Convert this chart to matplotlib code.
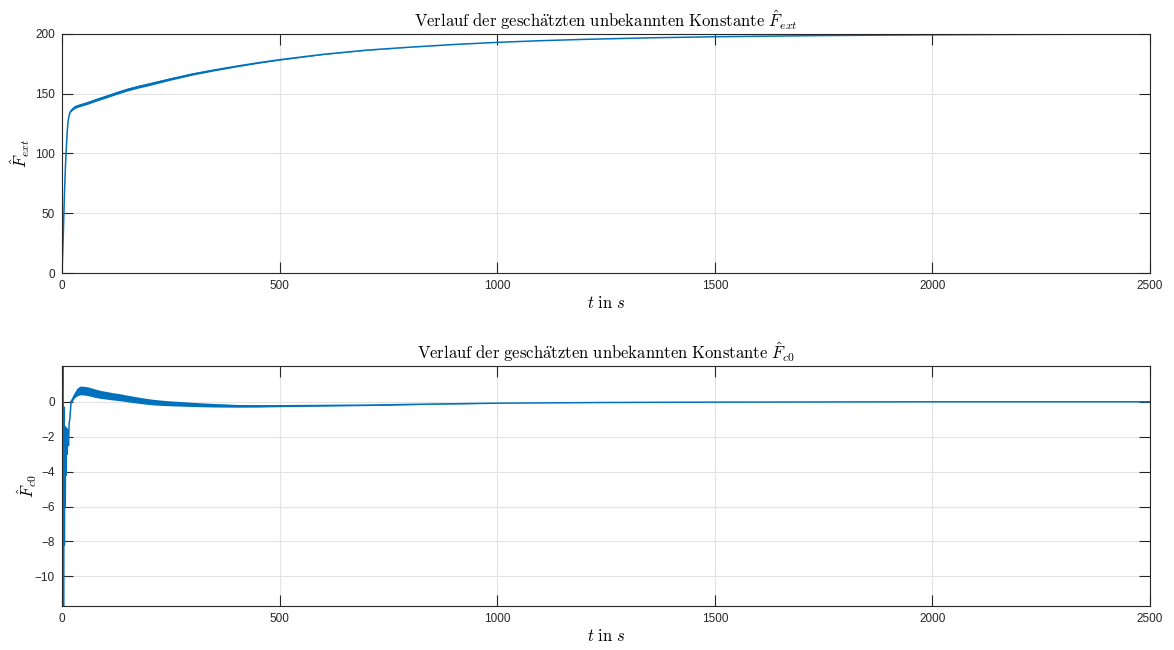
import matplotlib.pyplot as plt
import numpy as np

plt.rcParams['mathtext.fontset'] = 'cm'
plt.rcParams['font.family'] = ['Liberation Sans', 'DejaVu Sans']

# F_ext estimate (top), centre line and band half-width of the fast oscillation
t_ext = [0, 2, 4, 6, 8, 10, 12, 14, 17, 20, 25, 30, 40, 50, 60, 75, 100, 125, 150, 175,
         200, 250, 300, 350, 400, 450, 500, 600, 700, 800, 900, 1000, 1100, 1200, 1350,
         1500, 1750, 2000, 2250, 2500]
f_ext = [0, 20, 45, 70, 90, 105, 118, 127, 133, 135.5, 137.5, 139, 140.3, 141.4, 142.5,
         144.5, 147.5, 150.6, 153.5, 155.9, 158, 162.4, 166.5, 169.9, 173, 175.9, 178.5,
         183, 186.5, 189, 191.2, 193, 194.4, 195.5, 196.8, 197.7, 198.7, 199.3, 199.7, 199.9]
hw_ext = [0, 0, 0, 0, 0, 0, 0, 0, 0.3, 0.7, 1.0, 1.2, 1.2, 1.2, 1.2, 1.2, 1.2, 1.2, 1.2,
          1.2, 1.2, 1.0, 0.9, 0.75, 0.6, 0.5, 0.4, 0.25, 0.15, 0.08, 0.03, 0, 0, 0, 0,
          0, 0, 0, 0, 0]

# F_c0 estimate (bottom): start transient, then banded slow part
t_c0_start = [0, 2.5, 3.5, 4.5, 5.5, 6.5, 7.5, 8.5, 9.5, 10.5, 12, 13.5, 15, 16.5, 18, 21]
f_c0_start = [0, 3, -12.5, -0.3, -8.2, -1.4, -6, -1.6, -4.2, -1.5, -3.0, -1.6, -2.5, -1.2,
              -1.0, 0.0]
t_c0 = [21, 28, 34, 41, 50, 60, 75, 87, 100, 115, 133, 150, 168, 190, 210, 230, 250, 275,
        300, 350, 400, 450, 500, 600, 700, 850, 1000, 1250, 1500, 1750, 2000, 2500]
f_c0 = [0.0, 0.35, 0.55, 0.65, 0.64, 0.6, 0.5, 0.43, 0.38, 0.32, 0.26, 0.19, 0.12, 0.04,
        -0.02, -0.06, -0.09, -0.12, -0.15, -0.2, -0.23, -0.24, -0.23, -0.21, -0.19, -0.13,
        -0.08, -0.04, -0.02, -0.01, 0.0, 0.0]
hw_c0 = [0.08, 0.15, 0.22, 0.25, 0.25, 0.25, 0.24, 0.23, 0.22, 0.21, 0.2, 0.19, 0.18,
         0.17, 0.16, 0.15, 0.14, 0.13, 0.12, 0.1, 0.08, 0.065, 0.05, 0.04, 0.03, 0.015,
         0, 0, 0, 0, 0, 0]

blue = '#0072BD'
dark = '#262626'

fig = plt.figure(figsize=(11.74, 6.5), dpi=100)
ax1 = fig.add_axes([0.0528, 0.58, 0.9268, 0.3677])
ax2 = fig.add_axes([0.0528, 0.0677, 0.9268, 0.3692])


def style(ax):
    ax.grid(True, color='#e3e3e3', linewidth=0.8)
    ax.set_axisbelow(True)
    ax.tick_params(direction='in', length=8, width=0.8, colors=dark, labelsize=8.5,
                   top=True, right=True, pad=5)
    for s in ax.spines.values():
        s.set_color(dark)
        s.set_linewidth(0.8)
    ax.set_xlim(0, 2500)
    ax.set_xticks([0, 500, 1000, 1500, 2000, 2500])
    ax.set_xlabel(r'$t\ \mathrm{in}\ s$', fontsize=12, labelpad=2)


ta = np.array(t_ext)
fa = np.array(f_ext)
ha = np.array(hw_ext)
ax1.fill_between(ta, fa - ha, fa + ha, color=blue, linewidth=0)
ax1.plot(ta, fa, color=blue, linewidth=1.1)
ax1.set_ylim(0, 200)
ax1.set_yticks([0, 50, 100, 150, 200])
ax1.set_ylabel(r'$\hat{F}_{ext}$', fontsize=12)
ax1.yaxis.set_label_coords(-0.028, 0.5)
ax1.set_title(r'$\mathrm{Verlauf\ der\ gesch\ddot{a}tzten\ unbekannten\ Konstante}\ \hat{F}_{ext}$',
              fontsize=12, pad=5)
style(ax1)

tb = np.array(t_c0)
fb = np.array(f_c0)
hb = np.array(hw_c0)
ax2.plot(t_c0_start, f_c0_start, color=blue, linewidth=1.1)
ax2.fill_between(tb, fb - hb, fb + hb, color=blue, linewidth=0)
ax2.plot(tb, fb, color=blue, linewidth=1.1)
ax2.set_ylim(-11.7, 2.05)
ax2.set_yticks([-10, -8, -6, -4, -2, 0])
ax2.set_ylabel(r'$\hat{F}_{c0}$', fontsize=12)
ax2.yaxis.set_label_coords(-0.021, 0.5)
ax2.set_title(r'$\mathrm{Verlauf\ der\ gesch\ddot{a}tzten\ unbekannten\ Konstante}\ \hat{F}_{c0}$',
              fontsize=12, pad=5)
style(ax2)

fig.savefig('out.png', dpi=100)
